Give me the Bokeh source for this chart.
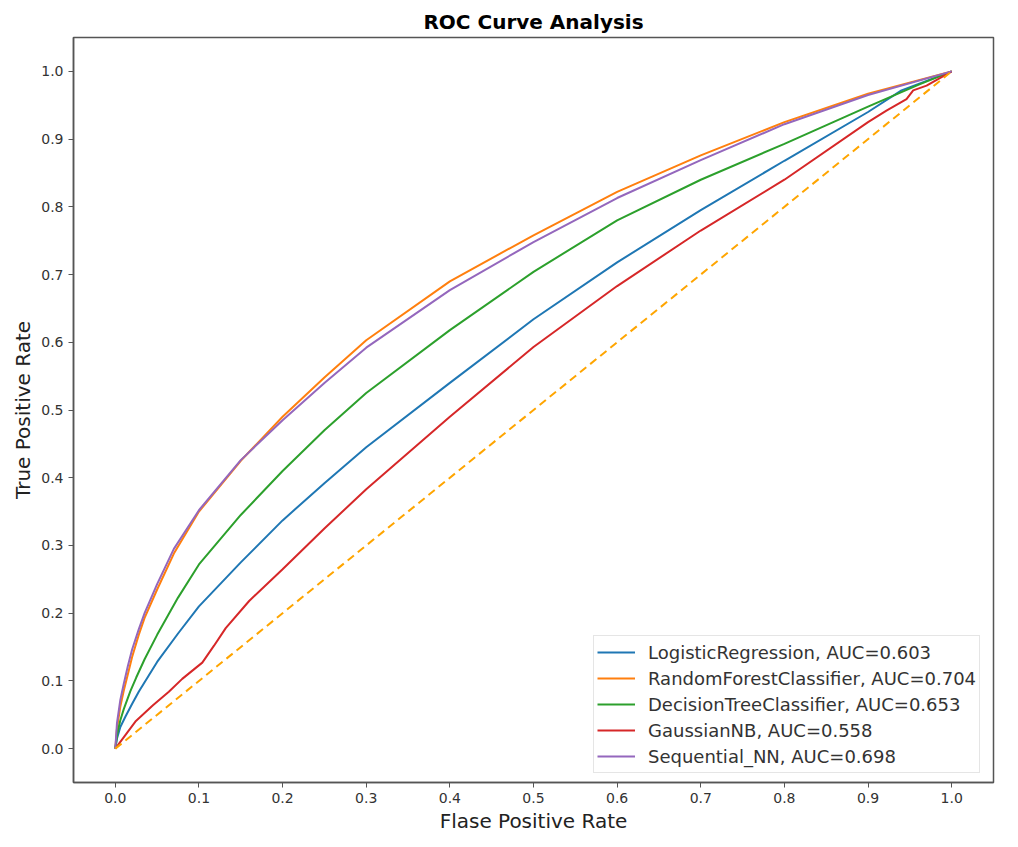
from bokeh.plotting import figure
from bokeh.models import Range1d, FixedTicker, PrintfTickFormatter, Legend, LegendItem
from bokeh.embed import file_html
from bokeh.resources import INLINE

# ---- data ----
lr_fpr = [0, 0.002, 0.006, 0.012, 0.02, 0.028, 0.04, 0.05, 0.075, 0.1, 0.15, 0.2, 0.25, 0.3, 0.4, 0.5, 0.6, 0.7, 0.8, 0.9, 0.94, 1.0]
lr_tpr = [0, 0.015, 0.032, 0.047, 0.066, 0.084, 0.108, 0.128, 0.17, 0.21, 0.275, 0.337, 0.392, 0.445, 0.54, 0.634, 0.718, 0.795, 0.868, 0.94, 0.972, 1.0]

rf_fpr = [0, 0.002, 0.006, 0.01, 0.015, 0.02, 0.028, 0.035, 0.05, 0.07, 0.1, 0.15, 0.2, 0.25, 0.3, 0.4, 0.5, 0.6, 0.7, 0.8, 0.9, 1.0]
rf_tpr = [0, 0.03, 0.062, 0.085, 0.11, 0.135, 0.168, 0.193, 0.235, 0.288, 0.35, 0.425, 0.49, 0.548, 0.603, 0.690, 0.758, 0.822, 0.876, 0.925, 0.967, 1.0]

dt_fpr = [0, 0.002, 0.006, 0.01, 0.018, 0.025, 0.035, 0.05, 0.075, 0.1, 0.15, 0.2, 0.25, 0.3, 0.4, 0.5, 0.6, 0.7, 0.8, 0.9, 0.96, 1.0]
dt_tpr = [0, 0.02, 0.042, 0.058, 0.085, 0.105, 0.132, 0.168, 0.223, 0.272, 0.345, 0.41, 0.47, 0.525, 0.618, 0.704, 0.780, 0.840, 0.893, 0.948, 0.98, 1.0]

gnb_fpr = [0, 0.012, 0.024, 0.045, 0.064, 0.08, 0.094, 0.104, 0.118, 0.132, 0.16, 0.2, 0.25, 0.3, 0.4, 0.5, 0.6, 0.7, 0.8, 0.9, 0.922, 0.946, 0.954, 0.97, 1.0]
gnb_tpr = [0, 0.02, 0.04, 0.064, 0.084, 0.103, 0.117, 0.127, 0.152, 0.178, 0.218, 0.265, 0.325, 0.383, 0.49, 0.593, 0.683, 0.765, 0.84, 0.925, 0.942, 0.959, 0.972, 0.979, 1.0]

nn_fpr = [0, 0.002, 0.006, 0.01, 0.015, 0.02, 0.028, 0.035, 0.05, 0.07, 0.1, 0.15, 0.2, 0.25, 0.3, 0.4, 0.5, 0.6, 0.7, 0.8, 0.9, 1.0]
nn_tpr = [0, 0.038, 0.072, 0.095, 0.122, 0.146, 0.176, 0.2, 0.243, 0.295, 0.352, 0.426, 0.485, 0.54, 0.592, 0.677, 0.748, 0.813, 0.869, 0.922, 0.965, 1.0]

labels = ["LogisticRegression, AUC=0.603",
          "RandomForestClassifier, AUC=0.704",
          "DecisionTreeClassifier, AUC=0.653",
          "GaussianNB, AUC=0.558",
          "Sequential_NN, AUC=0.698"]
colors = ["#1f77b4", "#ff7f0e", "#2ca02c", "#d62728", "#9467bd"]

diag_x = [0, 1]
diag_y = [0, 1]
tick_values = [0.0, 0.1, 0.2, 0.3, 0.4, 0.5, 0.6, 0.7, 0.8, 0.9, 1.0]

FONT = "DejaVu Sans"

p = figure(width=1010, height=839, output_backend="svg", toolbar_location=None,
           x_range=Range1d(-0.05, 1.05), y_range=Range1d(-0.05, 1.05),
           min_border_left=73, min_border_right=17, min_border_top=37, min_border_bottom=57,
           title="ROC Curve Analysis")
# screenshot frame: dark line along the left and top edges (drawn outside the layout)
p.styles = {"box-shadow": "-2px -2px 0 0 #000000"}

p.title.align = "center"
p.title.text_font = FONT
p.title.text_font_size = "20px"
p.title.text_font_style = "bold"
p.title.text_color = "#000000"
p.title.standoff = 7

p.grid.visible = False
p.outline_line_color = "#555555"
p.outline_line_width = 1.5
p.background_fill_color = "white"
p.border_fill_color = "white"

series = [(lr_fpr, lr_tpr), (rf_fpr, rf_tpr), (dt_fpr, dt_tpr), (gnb_fpr, gnb_tpr), (nn_fpr, nn_tpr)]
items = []
for (xs, ys), lab, c in zip(series, labels, colors):
    r = p.line(xs, ys, line_color=c, line_width=2)
    items.append(LegendItem(label=lab, renderers=[r]))

p.line(diag_x, diag_y, line_color="#ffa500", line_width=2, line_dash="8 5")

for ax in (p.xaxis[0], p.yaxis[0]):
    ax.ticker = FixedTicker(ticks=tick_values)
    ax.formatter = PrintfTickFormatter(format="%.1f")
    ax.minor_tick_line_color = None
    ax.major_tick_out = 5
    ax.major_tick_in = 0
    ax.major_tick_line_color = "#555555"
    ax.axis_line_color = "#555555"
    ax.axis_line_width = 1.5
    ax.major_label_text_font = FONT
    ax.major_label_text_font_size = "14px"
    ax.major_label_text_color = "#333333"
    ax.major_label_standoff = 5
    ax.axis_label_text_font = FONT
    ax.axis_label_text_font_size = "20px"
    ax.axis_label_text_font_style = "normal"
    ax.axis_label_text_color = "#222222"

p.xaxis[0].axis_label = "Flase Positive Rate"
p.xaxis[0].axis_label_standoff = 3
p.yaxis[0].axis_label = "True Positive Rate"
p.yaxis[0].axis_label_standoff = 3

legend = Legend(items=items, location=(520, 9))
legend.label_text_font = FONT
legend.label_text_font_size = "18px"
legend.label_text_color = "#333333"
legend.glyph_width = 38
legend.glyph_height = 26
legend.label_height = 26
legend.label_standoff = 13
legend.padding = 3
legend.spacing = 0
legend.margin = 0
legend.border_line_color = "#cccccc"
legend.border_line_width = 1
legend.background_fill_alpha = 0.85
p.add_layout(legend)

open("out.html", "w").write(file_html(p, INLINE))
